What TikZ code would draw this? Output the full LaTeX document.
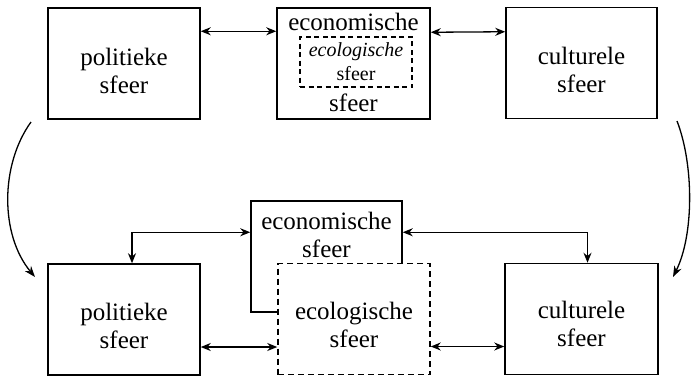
\documentclass[tikz,border=0pt]{standalone}
\usepackage{fontspec}
\setmainfont{Liberation Serif}
\usetikzlibrary{arrows.meta}
\begin{document}
\begin{tikzpicture}[x=1pt,y=-1pt,
  sphere/.style={draw,line width=1.5pt,inner sep=0pt,minimum width=152pt,minimum height=111pt},
  ecobox/.style={sphere,dashed,dash pattern=on 6pt off 4pt,fill=white},
  lbl/.style={align=center,inner sep=0pt,font=\fontsize{25}{28}\selectfont},
  small/.style={align=center,inner sep=0pt,font=\fontsize{20}{24}\selectfont},
  link/.style={line width=1.3pt,{Stealth[length=10pt,width=8pt]}-{Stealth[length=10pt,width=8pt]}},
  turnarrow/.style={line width=1.3pt,-{Stealth[length=11pt,width=8pt]}}]
\useasboundingbox (0,0) rectangle (693,378);

% upper row: the economy contains the ecology
\node[sphere] (pol1) at (124,63.5) {};
\node[lbl] at (124,71) {politieke\\sfeer};
\node[sphere,minimum width=153pt] (eco1) at (353.5,63.5) {};
\node[lbl] (eco1a) at (353.5,22) {economische};
\node[lbl] (eco1b) at (353.5,103) {sfeer};
\node[draw,line width=1.4pt,dash pattern=on 5pt off 3.5pt,minimum width=112pt,minimum height=50pt,inner sep=0pt] (eco1in) at (356,62) {};
\node[small] at (356,62) {{\itshape ecologische}\\sfeer};
\node[sphere,minimum width=151pt] (cul1) at (581.5,63) {};
\node[lbl] at (581.5,70) {culturele\\sfeer};

\draw[link] ([yshift=-24pt]pol1.north east) -- ([yshift=-24pt]eco1.north west);
\draw[link] ([yshift=-25pt]eco1.north east) -- ([yshift=-25pt]cul1.north west);

% lower row: the ecology carries the economy
\node[draw,line width=1.5pt,inner sep=0pt,minimum width=151pt,minimum height=111pt] (eco2) at (326.5,256.5) {};
\node[lbl] at (326.5,235) {economische\\sfeer};
\node[ecobox] (eco3) at (354,319) {};
\node[lbl] at (354,325) {ecologische\\sfeer};
\node[sphere] (pol2) at (124,319.5) {};
\node[lbl] at (124,326) {politieke\\sfeer};
\node[sphere,minimum width=153pt] (cul2) at (581.5,319) {};
\node[lbl] at (581.5,324) {culturele\\sfeer};

\draw[link] ([yshift=-32pt]eco2.north west) -| ([xshift=8pt]pol2.north);
\draw[link] ([yshift=-32pt]eco2.north east) -| ([xshift=6pt]cul2.north);
\draw[link] ([yshift=-27.5pt]pol2.east) -- ([yshift=-27.5pt]pol2.east -| eco3.west);
\draw[link] ([yshift=-27.5pt]eco3.east) -- ([yshift=-27.5pt]eco3.east -| cul2.west);

% transition from the upper to the lower view
\coordinate (l1) at (31,122);
\coordinate (l2) at (35,277);
\coordinate (r1) at (677,121);
\coordinate (r2) at (673,277);
\draw[turnarrow] (l1) .. controls (0,165) and (0,235) .. (l2);
\draw[turnarrow] (r1) .. controls (694,165) and (694,235) .. (r2);
\end{tikzpicture}
\end{document}
